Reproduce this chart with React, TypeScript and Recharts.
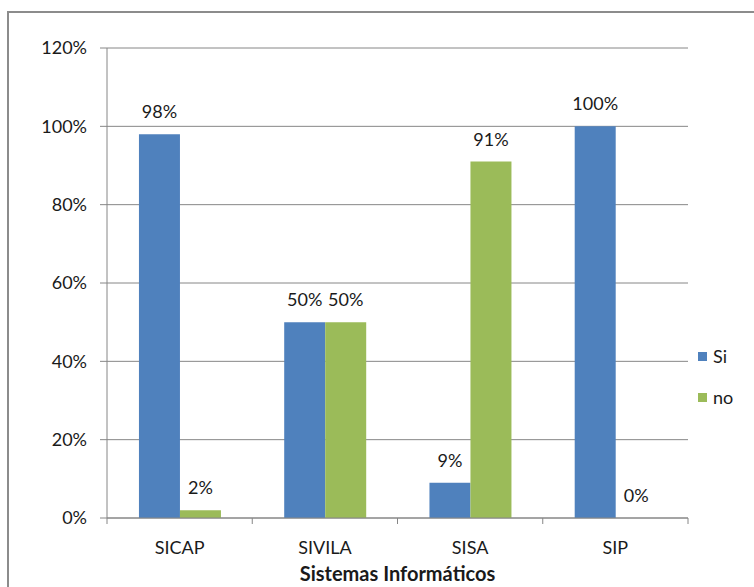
import React from 'react';
import { BarChart, Bar, XAxis, YAxis, CartesianGrid, Legend, LabelList } from 'recharts';

const categories = ['SICAP', 'SIVILA', 'SISA', 'SIP'];
const siValues = [98, 50, 9, 100];
const noValues = [2, 50, 91, 0];
const yTicks = [0, 20, 40, 60, 80, 100, 120];

const data = categories.map((name, i) => ({ name, si: siValues[i], no: noValues[i] }));

const BLUE = '#4f81bd';
const GREEN = '#9bbb59';
const AXIS = '#868686';
const TEXT = '#1a1a1a';
const FONT = 'Lato, "Noto Sans", sans-serif';

// category label plus the small marks between categories (Excel style)
const CategoryTick = (props: any) => {
  const { x, y, payload, index } = props;
  const half = payload.offset || 0;
  return (
    <g>
      <line x1={x - half} y1={y} x2={x - half} y2={y + 6} stroke={AXIS} />
      {index === categories.length - 1 && (
        <line x1={x + half} y1={y} x2={x + half} y2={y + 6} stroke={AXIS} />
      )}
      <text x={x} y={y + 36} textAnchor="middle" fontSize={18} fill={TEXT} fontFamily={FONT}>
        {payload.value}
      </text>
    </g>
  );
};

// value label above each bar, also for zero-height bars
const ValueLabel = (props: any) => {
  const { x, y, width, value } = props;
  if (value == null) return null;
  return (
    <text x={x + width / 2} y={y - 16} textAnchor="middle" fontSize={18} fill={TEXT} fontFamily={FONT}>
      {`${value}%`}
    </text>
  );
};

const LegendBox = () => (
  <div style={{ fontFamily: FONT, fontSize: 18, color: TEXT }}>
    {[{ label: 'Si', color: BLUE }, { label: 'no', color: GREEN }].map((item, i) => (
      <div key={item.label} style={{ display: 'flex', alignItems: 'center', height: 22, marginBottom: i === 0 ? 19 : 0 }}>
        <span style={{ width: 9, height: 9, background: item.color, display: 'inline-block', marginRight: 6 }} />
        <span>{item.label}</span>
      </div>
    ))}
  </div>
);

export default function App() {
  return (
    <div style={{ position: 'absolute', left: 0, top: 0, width: 754, height: 587, overflow: 'hidden', background: '#fff' }}>
      <div style={{ position: 'absolute', left: 7, top: 11, width: 780, height: 620, border: '2px solid #8c8c8c', boxSizing: 'border-box' }} />
      <div style={{ position: 'absolute', left: 0, top: 0 }}>
        <BarChart
          width={754}
          height={587}
          data={data}
          margin={{ top: 48, right: 10, bottom: 0, left: 0 }}
          barCategoryGap="22%"
          barGap={0}
        >
          <CartesianGrid vertical={false} stroke={AXIS} />
          <XAxis
            dataKey="name"
            height={69}
            stroke={AXIS}
            tickLine={false}
            tickSize={0}
            tickMargin={0}
            tick={<CategoryTick />}
            interval={0}
            label={{
              value: 'Sistemas Informáticos',
              position: 'insideBottom',
              offset: 6,
              style: { fontFamily: FONT, fontSize: 20, fontWeight: 700, fill: TEXT },
            }}
          />
          <YAxis
            width={107}
            domain={[0, 120]}
            ticks={yTicks}
            tickFormatter={(v: number) => `${v}%`}
            stroke={AXIS}
            tickSize={7}
            tickMargin={13}
            tick={{ fontSize: 18, fill: TEXT, fontFamily: FONT }}
          />
          <Legend
            layout="vertical"
            align="right"
            verticalAlign="top"
            wrapperStyle={{ left: 698, top: 345, width: 56 }}
            content={<LegendBox />}
          />
          <Bar dataKey="si" name="Si" fill={BLUE} isAnimationActive={false} minPointSize={0.01}>
            <LabelList dataKey="si" content={<ValueLabel />} />
          </Bar>
          <Bar dataKey="no" name="no" fill={GREEN} isAnimationActive={false} minPointSize={0.01}>
            <LabelList dataKey="no" content={<ValueLabel />} />
          </Bar>
        </BarChart>
      </div>
    </div>
  );
}
